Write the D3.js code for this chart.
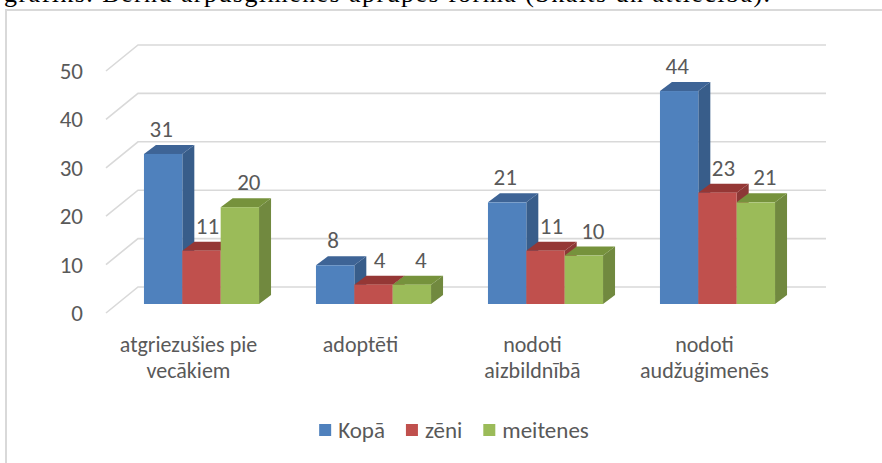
<!DOCTYPE html>
<html>
<head>
<meta charset="utf-8">
<script src="https://cdn.jsdelivr.net/npm/d3@7"></script>
<style>
  body { margin: 0; background: #fff; }
  svg { display: block; }
  text { font-family: Carlito, "Open Sans", sans-serif; fill: #595959; }
</style>
</head>
<body>
<svg id="chart" width="882" height="463"></svg>
<script>
// dati
var categories = ["atgriezušies pie\nvecākiem", "adoptēti", "nodoti\naizbildnībā", "nodoti\naudžuģimenēs"];
var series = ["Kopā", "zēni", "meitenes"];
var kopa = [31, 8, 21, 44];
var zeni = [11, 4, 11, 23];
var meitenes = [20, 4, 10, 21];
var yTicks = [0, 10, 20, 30, 40, 50];

var values = [kopa, zeni, meitenes];
var front = ["#4f81bd", "#c0504d", "#9bbb59"];
var side = ["#385d8a", "#8c3836", "#71893f"];
var top_ = ["#3e6496", "#953735", "#76923c"];
var labelShift = [-2, 6, 9];

var svg = d3.select("#chart");

// virsraksta teksts, kas nogriezts augšā
svg.append("text")
   .attr("x", 4).attr("y", 2)
   .attr("textLength", 766)
   .style("font-family", "'Liberation Serif', 'DejaVu Serif', serif")
   .style("font-size", "26px")
   .style("fill", "#000")
   .text("grafiks. Bērnu ārpusģimenes aprūpes forma (Skaits un attiecība).");

// rāmis
svg.append("rect")
   .attr("x", 6).attr("y", 10).attr("width", 900).attr("height", 470)
   .attr("fill", "none").attr("stroke", "#d9d9d9").attr("stroke-width", 2);

var y = d3.scaleLinear().domain([0, 50]).range([287, 45]);
var wallLeft = 138, wallRight = 826, dX = 32, dY = 26;
var barDown = 17, depthX = 12, depthY = 9;

// režģa līnijas
var grid = svg.append("g");
yTicks.forEach(function (t) {
    grid.append("polyline")
        .attr("points", [[wallLeft - dX, y(t) + dY], [wallLeft, y(t)], [wallRight, y(t)]].join(" "))
        .attr("fill", "none").attr("stroke", "#d9d9d9").attr("stroke-width", 1.6);
    grid.append("text")
        .attr("x", 83).attr("y", y(t) + dY)
        .attr("text-anchor", "end").attr("dominant-baseline", "central")
        .style("font-size", "23px")
        .text(t);
});

var x0 = d3.scaleBand().domain(d3.range(categories.length))
           .range([115.5, 803.5]).paddingInner(0.331).paddingOuter(0.1655);
var x1 = d3.scaleBand().domain(d3.range(series.length)).range([0, x0.bandwidth()]);

var bars = svg.append("g");
categories.forEach(function (c, i) {
    series.forEach(function (s, k) {
        var v = values[k][i];
        var xa = x0(i) + x1(k), w = x1.bandwidth();
        var base = y(0) + barDown, yt = y(v) + barDown;
        var g = bars.append("g");
        g.append("polygon")
         .attr("points", [[xa + w, yt], [xa + w + depthX, yt - depthY], [xa + w + depthX, base - depthY], [xa + w, base]].join(" "))
         .attr("fill", side[k]);
        g.append("polygon")
         .attr("points", [[xa, yt], [xa + depthX, yt - depthY], [xa + w + depthX, yt - depthY], [xa + w, yt]].join(" "))
         .attr("fill", top_[k]);
        g.append("rect")
         .attr("x", xa).attr("y", yt).attr("width", w).attr("height", base - yt)
         .attr("fill", front[k]);
        g.append("text")
         .attr("x", xa + w / 2 + labelShift[k]).attr("y", yt - 25)
         .attr("text-anchor", "middle").attr("dominant-baseline", "central")
         .style("font-size", "23px")
         .text(v);
    });
});

// kategoriju nosaukumi
categories.forEach(function (c, i) {
    var t = svg.append("text")
               .attr("text-anchor", "middle")
               .style("font-size", "22px");
    c.split("\n").forEach(function (line, j) {
        t.append("tspan")
         .attr("x", x0(i) + x0.bandwidth() / 2 - 13)
         .attr("y", 344 + j * 26)
         .attr("dominant-baseline", "central")
         .text(line);
    });
});

// leģenda
var leg = svg.append("g");
var lx = 0;
series.forEach(function (s, k) {
    var item = leg.append("g").attr("transform", "translate(" + lx + ",0)");
    item.append("rect").attr("x", 0).attr("y", -6).attr("width", 12).attr("height", 12).attr("fill", front[k]);
    var tx = item.append("text").attr("x", 19).attr("y", 0)
                 .attr("dominant-baseline", "central")
                 .style("font-size", "23px").text(s);
    lx += 19 + tx.node().getComputedTextLength() + 21;
});
var legW = lx - 21;
leg.attr("transform", "translate(" + (454 - legW / 2) + ",430)");
</script>
</body>
</html>
